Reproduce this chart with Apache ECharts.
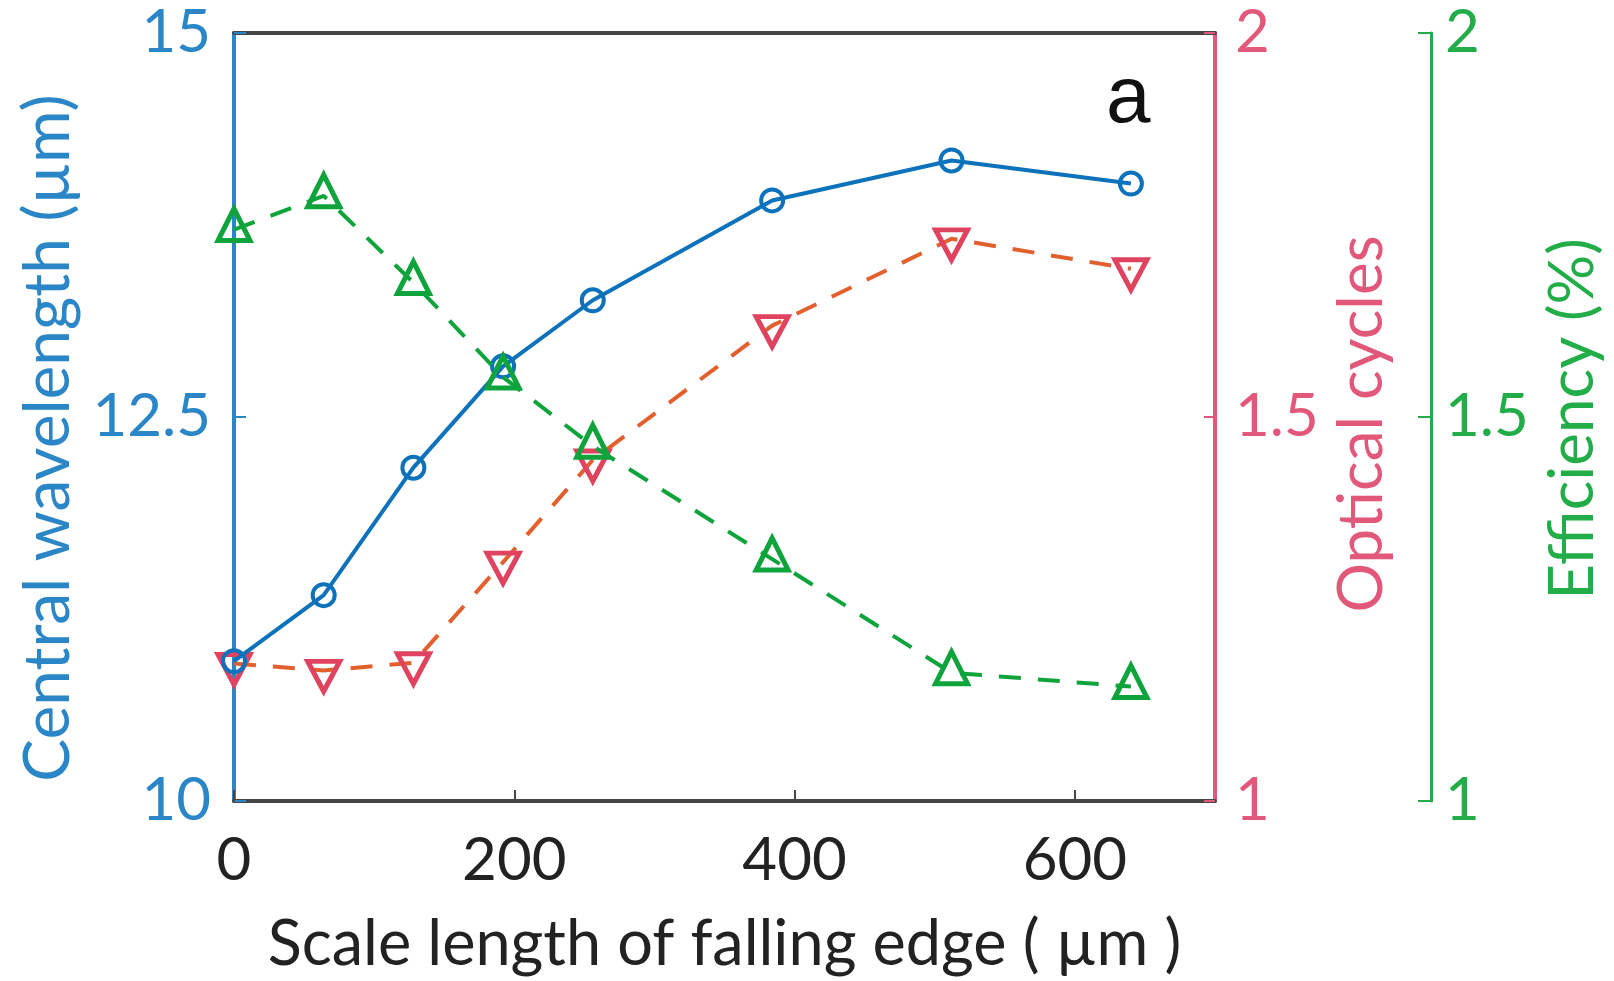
<!DOCTYPE html>
<html>
<head>
<meta charset="utf-8">
<script src="https://cdn.jsdelivr.net/npm/echarts@6/dist/echarts.min.js"></script>
<style>
html,body{margin:0;padding:0;background:#fff;}
#chart{width:1614px;height:981px;}
</style>
</head>
<body>
<div id="chart"></div>
<script>
// ---- data ----
const scaleLength = [0, 64, 128, 192, 256, 384, 512, 640];          // µm
const centralWavelength = [10.91, 11.34, 12.17, 12.83, 13.26, 13.91, 14.17, 14.02]; // µm
const opticalCycles = [1.179, 1.170, 1.180, 1.311, 1.444, 1.619, 1.732, 1.693];
const efficiency = [1.744, 1.788, 1.675, 1.552, 1.462, 1.315, 1.167, 1.149];     // %

const xTicks = [0, 200, 400, 600];
const leftTicks = [10, 12.5, 15];
const rightTicks = [1, 1.5, 2];

const BLUE = '#0B72BB', BLUE_AX = '#2a86c6';
const RED_AX = '#E2587A', RED_MK = '#E0435F', ORANGE = '#E2602E';
const GREEN = '#0FA33C', GREEN_AX = '#22AD48';
const GRAY = '#454545';
const FONT = 'Lato';

function pairs(ys){ return scaleLength.map((x,i)=>[x, ys[i]]); }

const chart = echarts.init(document.getElementById('chart'), null, {renderer:'canvas'});
const option = {
  animation:false,
  backgroundColor:'#fff',
  grid:{left:234, top:33, right:399, bottom:176, containLabel:false},
  xAxis:[{
    type:'value', min:0, max:700, interval:200, position:'bottom',
    name:'Scale length of falling edge ( µm )', nameLocation:'middle', nameGap:112,
    nameTextStyle:{color:'#222', fontFamily:FONT, fontSize:63},
    axisLine:{show:true, onZero:false, lineStyle:{color:GRAY, width:4}},
    axisTick:{show:true, inside:true, length:11, lineStyle:{color:GRAY, width:2}},
    axisLabel:{color:'#222', fontFamily:FONT, fontSize:60, margin:30, showMaxLabel:false,
      formatter:v=> xTicks.includes(v) ? String(v) : ''},
    splitLine:{show:false}
  },{
    type:'value', min:0, max:700, interval:200, position:'top',
    axisLine:{show:true, onZero:false, lineStyle:{color:GRAY, width:4}},
    axisTick:{show:false}, axisLabel:{show:false}, splitLine:{show:false}
  }],
  yAxis:[{
    type:'value', min:10, max:15, interval:2.5, position:'left',
    name:'Central wavelength (µm)', nameLocation:'middle', nameGap:154, nameRotate:90,
    nameTextStyle:{color:BLUE_AX, fontFamily:FONT, fontSize:64, padding:[0,42,0,0]},
    axisLine:{show:true, onZero:false, lineStyle:{color:BLUE_AX, width:4}},
    axisTick:{show:true, inside:true, length:12, lineStyle:{color:BLUE_AX, width:2}},
    axisLabel:{color:BLUE_AX, fontFamily:FONT, fontSize:60, margin:23,
      formatter:v=> leftTicks.includes(v) ? String(v) : ''},
    splitLine:{show:false}
  },{
    type:'value', min:1, max:2, interval:0.5, position:'right', offset:0,
    name:'Optical cycles', nameLocation:'middle', nameGap:116, nameRotate:90,
    nameTextStyle:{color:RED_AX, fontFamily:FONT, fontSize:62, padding:[0,14,0,0]},
    axisLine:{show:true, onZero:false, lineStyle:{color:RED_AX, width:4}},
    axisTick:{show:true, inside:true, length:11, lineStyle:{color:RED_AX, width:2}},
    axisLabel:{color:RED_AX, fontFamily:FONT, fontSize:60, margin:20,
      formatter:v=> rightTicks.includes(v) ? String(v) : ''},
    splitLine:{show:false}
  },{
    type:'value', min:1, max:2, interval:0.5, position:'right', offset:216,
    name:'Efficiency (%)', nameLocation:'middle', nameGap:111, nameRotate:90,
    nameTextStyle:{color:GREEN_AX, fontFamily:FONT, fontSize:62, padding:[0,4,0,0]},
    axisLine:{show:true, onZero:false, lineStyle:{color:GREEN_AX, width:3}},
    axisTick:{show:true, inside:true, length:13, lineStyle:{color:GREEN_AX, width:2}},
    axisLabel:{color:GREEN_AX, fontFamily:FONT, fontSize:60, margin:14,
      formatter:v=> rightTicks.includes(v) ? String(v) : ''},
    splitLine:{show:false}
  }],
  series:[{
    name:'Central wavelength', type:'line', xAxisIndex:0, yAxisIndex:0,
    data:pairs(centralWavelength),
    symbol:'circle', symbolSize:22, showSymbol:true,
    lineStyle:{color:BLUE, width:4},
    itemStyle:{color:'rgba(255,255,255,0)', borderColor:BLUE, borderWidth:4},
    z:4
  },{
    name:'Optical cycles', type:'line', xAxisIndex:0, yAxisIndex:1,
    data:pairs(opticalCycles),
    symbol:'triangle', symbolRotate:180, symbolSize:[32,30], symbolOffset:[0,6], showSymbol:true,
    lineStyle:{color:ORANGE, width:4, type:[22,17]},
    itemStyle:{color:'rgba(255,255,255,0)', borderColor:RED_MK, borderWidth:5},
    z:3
  },{
    name:'Efficiency', type:'line', xAxisIndex:0, yAxisIndex:2,
    data:pairs(efficiency),
    symbol:'triangle', symbolSize:[32,32], symbolOffset:[0,-5], showSymbol:true,
    lineStyle:{color:GREEN, width:4, type:[22,17]},
    itemStyle:{color:'rgba(255,255,255,0)', borderColor:GREEN, borderWidth:5},
    z:5
  }],
  graphic:[{
    type:'text', left:1106, top:60, z:10,
    style:{text:'a', fill:'#111', font:'80px "Liberation Sans", Arial, sans-serif'}
  }]
};
chart.setOption(option);
</script>
</body>
</html>
